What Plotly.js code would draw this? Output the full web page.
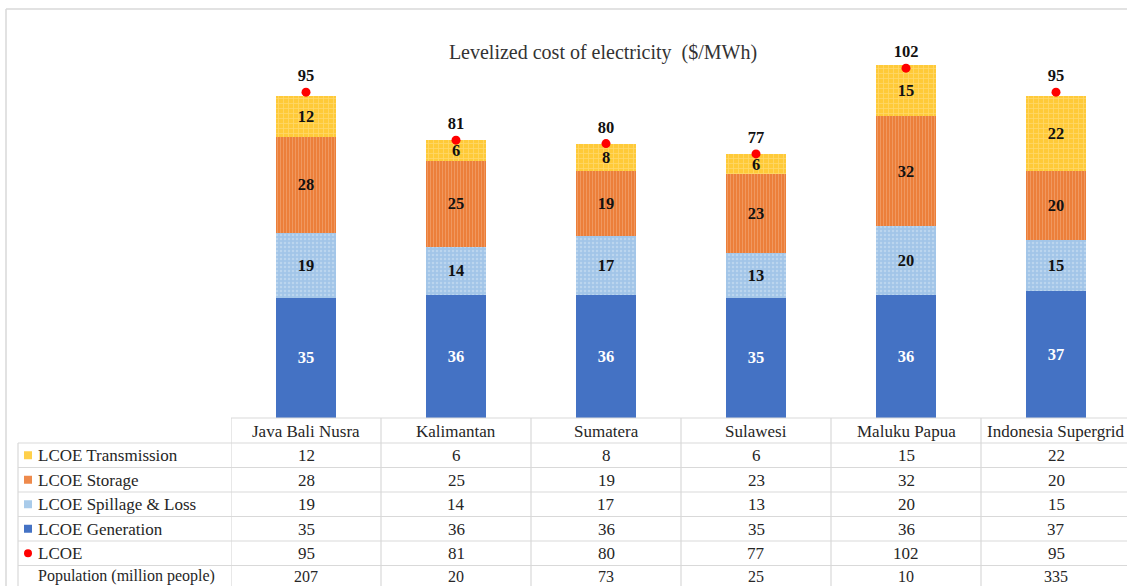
<!DOCTYPE html>
<html>
<head>
<meta charset="utf-8">
<script src="https://cdn.plot.ly/plotly-3.0.1.min.js"></script>
<style>html,body{margin:0;padding:0;background:#fff;}#chart{width:1127px;height:586px;}</style>
</head>
<body>
<div id="chart"></div>
<script>
// ---- data ----
const categories = ["Java Bali Nusra", "Kalimantan", "Sumatera", "Sulawesi", "Maluku Papua", "Indonesia Supergrid"];
const lcoeGeneration = [35, 36, 36, 35, 36, 37];
const lcoeSpillage = [19, 14, 17, 13, 20, 15];
const lcoeStorage = [28, 25, 19, 23, 32, 20];
const lcoeTransmission = [12, 6, 8, 6, 15, 22];
const lcoeTotal = [95, 81, 80, 77, 102, 95];
const population = [207, 20, 73, 25, 10, 335];
const seriesNames = ["LCOE Transmission", "LCOE Storage", "LCOE Spillage & Loss", "LCOE Generation", "LCOE", "Population (million people)"];
const chartTitle = "Levelized cost of electricity  ($/MWh)";

// ---- layout geometry ----
const W = 1127, H = 586;
const plotL = 231, plotTop = 41, plotBottom = 418;
const colW = 150;
const plotH = plotBottom - plotTop;
const plotW = W - plotL;
const py2p = py => (plotBottom - py) / plotH;
const px2p = px => (px - plotL) / plotW;
const FONT = "Liberation Serif, DejaVu Serif, serif";
const gridC = "#d9d9d9";
const txtC = "#262626";
const TSIZE = 17;

const idx = categories.map((_, i) => i);

function barTrace(name, vals, color, pattern, textColor) {
  return {
    type: "bar", name: name, x: idx, y: vals, width: 0.4,
    marker: {color: color, line: {width: 0}, pattern: pattern},
    text: vals.map(v => "<b>" + v + "</b>"), textposition: "inside", insidetextanchor: "middle",
    constraintext: "none", textangle: 0,
    textfont: {family: FONT, size: 16.5, color: textColor},
    hoverinfo: "skip", showlegend: false
  };
}

const traces = [
  barTrace(seriesNames[3], lcoeGeneration, "#4472C4", undefined, "#ffffff"),
  barTrace(seriesNames[2], lcoeSpillage, "#A2C5E8", {shape: ".", fillmode: "overlay", fgcolor: "#D4E4F4", size: 4, solidity: 0.3}, "#111111"),
  barTrace(seriesNames[1], lcoeStorage, "#EC7F3A", {shape: "|", fillmode: "overlay", fgcolor: "#F4B68C", size: 3, solidity: 0.3}, "#111111"),
  barTrace(seriesNames[0], lcoeTransmission, "#FFCA38", {shape: "+", fillmode: "overlay", fgcolor: "#FFE49A", size: 5, solidity: 0.3}, "#111111"),
  {
    type: "scatter", mode: "markers+text", name: seriesNames[4], x: idx, y: lcoeTotal,
    marker: {color: "#FF0000", size: 9},
    text: lcoeTotal.map(v => "<b>" + v + "</b>"), textposition: "top center",
    textfont: {family: FONT, size: 16.5, color: "#111111"},
    hoverinfo: "skip", showlegend: false, cliponaxis: false
  }
];

// ---- table (shapes + annotations) ----
const shapes = [];
const annotations = [];
const rowTops = [443, 467.5, 492, 516.5, 541, 565.5];
const rowH = 24.5;
const hdrTop = 418;
// text centre offsets inside each row (last row is cut by the picture edge)
const rowTextOffset = [12.5, 12.5, 12.5, 12.5, 12.5, 10.5];
const rowTextSize = [TSIZE, TSIZE, TSIZE, TSIZE, TSIZE, 16];

// outer chart border
shapes.push({type: "line", xref: "paper", yref: "paper", x0: px2p(6), x1: px2p(W + 5), y0: py2p(9), y1: py2p(9), line: {color: gridC, width: 1.5}});
shapes.push({type: "line", xref: "paper", yref: "paper", x0: px2p(6), x1: px2p(6), y0: py2p(9), y1: py2p(H + 5), line: {color: gridC, width: 1.5}});

// header top line
shapes.push({type: "line", xref: "paper", yref: "paper", x0: px2p(plotL), x1: px2p(W + 5), y0: py2p(hdrTop), y1: py2p(hdrTop), line: {color: gridC, width: 1.2}});
// row lines
rowTops.forEach(t => {
  shapes.push({type: "line", xref: "paper", yref: "paper", x0: px2p(18), x1: px2p(W + 5), y0: py2p(t), y1: py2p(t), line: {color: gridC, width: 1.2}});
});
// vertical lines at column boundaries
for (let i = 0; i <= categories.length; i++) {
  shapes.push({type: "line", xref: "x", yref: "paper", x0: i - 0.5, x1: i - 0.5, y0: py2p(hdrTop), y1: py2p(H + 5), line: {color: gridC, width: 1.2}});
}
// left table line
shapes.push({type: "line", xref: "paper", yref: "paper", x0: px2p(18), x1: px2p(18), y0: py2p(rowTops[0]), y1: py2p(H + 5), line: {color: gridC, width: 1.2}});

// header labels
categories.forEach((c, i) => {
  annotations.push({xref: "x", yref: "paper", x: i, y: py2p(hdrTop + 13), text: c, showarrow: false,
    xanchor: "center", yanchor: "middle", font: {family: FONT, size: TSIZE, color: txtC}});
});

const rows = [lcoeTransmission, lcoeStorage, lcoeSpillage, lcoeGeneration, lcoeTotal, population];
const symColors = ["#FFD04A", "#EE8A4C", "#A9CBEA", "#4472C4", "#FF0000", null];
rows.forEach((vals, r) => {
  const yc = rowTops[r] + rowTextOffset[r];
  const fs = rowTextSize[r];
  annotations.push({xref: "paper", yref: "paper", x: px2p(36), y: py2p(yc), text: seriesNames[r], showarrow: false,
    xanchor: "left", yanchor: "middle", font: {family: FONT, size: fs, color: txtC}});
  vals.forEach((v, i) => {
    annotations.push({xref: "x", yref: "paper", x: i, y: py2p(yc), text: String(v), showarrow: false,
      xanchor: "center", yanchor: "middle", font: {family: FONT, size: fs, color: txtC}});
  });
  if (symColors[r]) {
    const yc2 = rowTops[r] + rowH / 2;
    if (r === 4) {
      shapes.push({type: "circle", xref: "paper", yref: "paper", x0: px2p(24), x1: px2p(32), y0: py2p(yc2 + 4), y1: py2p(yc2 - 4),
        fillcolor: symColors[r], line: {width: 0}});
    } else {
      shapes.push({type: "rect", xref: "paper", yref: "paper", x0: px2p(24), x1: px2p(32), y0: py2p(yc2 + 4), y1: py2p(yc2 - 4),
        fillcolor: symColors[r], line: {width: 0}});
    }
  }
});

const layout = {
  width: W, height: H,
  margin: {l: plotL, r: 0, t: plotTop, b: H - plotBottom, pad: 0},
  paper_bgcolor: "#ffffff", plot_bgcolor: "#ffffff",
  barmode: "stack",
  title: {text: chartTitle, xref: "container", yref: "container", x: 603 / W, y: 1 - 52 / H,
    xanchor: "center", yanchor: "middle", font: {family: FONT, size: 20, color: "#333333"}},
  xaxis: {range: [-0.5, -0.5 + plotW / colW], showticklabels: false, showgrid: false, zeroline: false, showline: false, ticks: "", fixedrange: true},
  yaxis: {range: [0, plotH / 3.43], showticklabels: false, showgrid: false, zeroline: false, showline: false, ticks: "", fixedrange: true},
  shapes: shapes, annotations: annotations,
  showlegend: false, hovermode: false,
  uniformtext: {mode: false}
};

Plotly.newPlot("chart", traces, layout, {displayModeBar: false, staticPlot: true});
</script>
</body>
</html>
